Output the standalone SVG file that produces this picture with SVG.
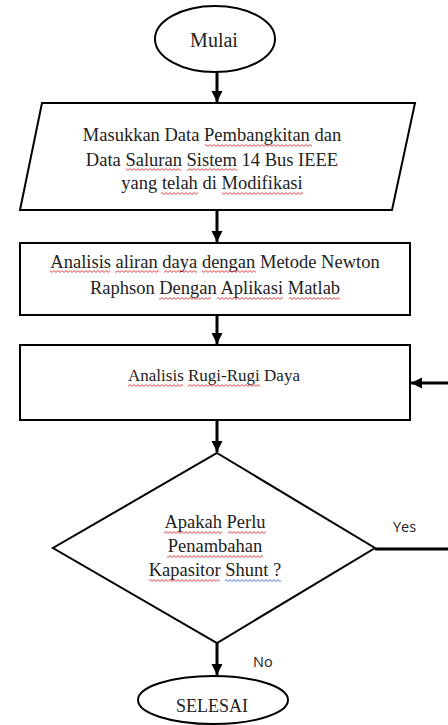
<svg xmlns="http://www.w3.org/2000/svg" width="448" height="725" viewBox="0 0 448 725">
<style>
.shape{fill:#fff;stroke:#000;stroke-width:2}
.t{font-family:"Liberation Serif","Times New Roman",serif;fill:#222;text-anchor:middle}
.lbl{font-family:"Open Sans","Liberation Sans",sans-serif;fill:#222;font-size:14.5px}
.c{stroke:#000;stroke-width:3;fill:none}
.sq{fill:url(#sqr)}
.sqb{fill:url(#sqb)}
</style>
<defs>
<marker id="ah" markerUnits="userSpaceOnUse" markerWidth="12" markerHeight="12" refX="11" refY="5.5" orient="auto">
<path d="M0,0 L11,5.5 L0,11 Z" fill="#000"/>
</marker>
<pattern id="sqr" patternUnits="userSpaceOnUse" width="4" height="3">
<path d="M0,2.4 L2,0.6 L4,2.4" fill="none" stroke="#e03030" stroke-width="0.9"/>
</pattern>
<pattern id="sqb" patternUnits="userSpaceOnUse" width="4" height="3">
<path d="M0,2.4 L2,0.6 L4,2.4" fill="none" stroke="#3a6ee8" stroke-width="0.9"/>
</pattern>
</defs>
<g id="connectors">
<line class="c" x1="217" y1="72" x2="217" y2="102" marker-end="url(#ah)"/>
<line class="c" x1="217" y1="210" x2="217" y2="242" marker-end="url(#ah)"/>
<line class="c" x1="217" y1="315" x2="217" y2="344" marker-end="url(#ah)"/>
<line class="c" x1="448" y1="383" x2="411" y2="383" marker-end="url(#ah)"/>
<line class="c" x1="217" y1="420" x2="217" y2="452" marker-end="url(#ah)"/>
<line class="c" x1="375" y1="549" x2="448" y2="549"/>
<line class="c" x1="217" y1="643" x2="217" y2="675" marker-end="url(#ah)"/>
<text class="lbl" x="393" y="532">Yes</text>
<text class="lbl" x="253" y="667">No</text>
</g>
<g id="mulai">
<ellipse class="shape" cx="215" cy="39" rx="60" ry="33"/>
<text class="t" x="214" y="47" font-size="20">Mulai</text>
</g>
<g id="input">
<polygon class="shape" points="42,103 415,103 392,210 20,210"/>
<text class="t" font-size="18.5" x="212" y="141">Masukkan Data Pembangkitan dan</text>
<text class="t" font-size="18.5" x="212" y="166">Data Saluran Sistem 14 Bus IEEE</text>
<text class="t" font-size="18.5" x="212" y="189">yang telah di Modifikasi</text>
<rect class="sq" x="205" y="144" width="107" height="3"/>
<rect class="sq" x="126" y="168" width="55" height="3"/>
<rect class="sq" x="187" y="168" width="50" height="3"/>
<rect class="sq" x="161" y="192" width="37" height="3"/>
<rect class="sq" x="222" y="192" width="81" height="3"/>
</g>
<g id="aliran">
<rect class="shape" x="20" y="243" width="390" height="72"/>
<text class="t" font-size="18.5" x="215" y="268">Analisis aliran daya dengan Metode Newton</text>
<text class="t" font-size="18.5" x="215" y="294">Raphson Dengan Aplikasi Matlab</text>
<rect class="sq" x="50" y="270" width="60" height="3"/>
<rect class="sq" x="115" y="270" width="44" height="3"/>
<rect class="sq" x="164" y="270" width="33" height="3"/>
<rect class="sq" x="202" y="270" width="54" height="3"/>
<rect class="sq" x="159" y="297" width="52" height="3"/>
<rect class="sq" x="217" y="297" width="66" height="3"/>
<rect class="sq" x="289" y="297" width="51" height="3"/>
</g>
<g id="rugi">
<rect class="shape" x="20" y="345" width="390" height="75"/>
<text class="t" font-size="17" x="214" y="381">Analisis Rugi-Rugi Daya</text>
<rect class="sq" x="128" y="384" width="55" height="3"/>
<rect class="sq" x="188" y="384" width="72" height="3"/>
</g>
<g id="keputusan">
<polygon class="shape" points="217,453 375,548 217,643 53,548"/>
<text class="t" font-size="18.5" x="215" y="528">Apakah Perlu</text>
<text class="t" font-size="18.5" x="215" y="552">Penambahan</text>
<text class="t" font-size="18.5" x="215" y="576">Kapasitor Shunt ?</text>
<rect class="sq" x="164" y="531" width="58" height="3"/>
<rect class="sq" x="228" y="531" width="38" height="3"/>
<rect class="sq" x="167" y="555" width="96" height="3"/>
<rect class="sq" x="149" y="579" width="71" height="3"/>
<rect class="sqb" x="225" y="579" width="56" height="3"/>
</g>
<g id="selesai">
<ellipse class="shape" cx="213" cy="700" rx="75" ry="24"/>
<text class="t" font-size="18" x="212" y="712">SELESAI</text>
</g>
</svg>
